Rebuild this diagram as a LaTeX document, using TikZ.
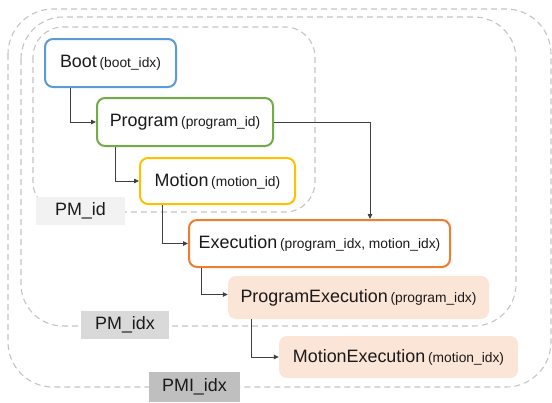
\documentclass[tikz,border=0pt]{standalone}
\usepackage{fontspec}
\setmainfont{Liberation Sans}
\usetikzlibrary{arrows.meta}

\definecolor{bootblue}{HTML}{5B9BD5}
\definecolor{proggreen}{HTML}{70AD47}
\definecolor{motionyellow}{HTML}{FFC000}
\definecolor{execorange}{HTML}{ED7D31}
\definecolor{peach}{HTML}{FBE5D6}
\definecolor{regiongray}{HTML}{C4C4C4}
\definecolor{txt}{HTML}{1A1A1A}
\definecolor{wire}{HTML}{404040}

\newcommand{\mainname}[1]{{\fontsize{17.9}{20}\selectfont #1}}
\newcommand{\keyname}[1]{{\fontsize{13.8}{16}\selectfont #1}}

\tikzset{
  entity/.style={draw, line width=2pt, rounded corners=8pt, fill=white,
    text=txt, inner sep=0pt, align=center},
  derived/.style={fill=peach, rounded corners=8pt, text=txt, inner sep=0pt,
    align=center},
  region/.style={draw=regiongray, line width=1.1pt, dash pattern=on 6pt off 4pt},
  scopetag/.style={text=txt, inner sep=0pt, align=center},
  link/.style={draw=wire, line width=0.8pt, -{Triangle[length=5pt,width=4.5pt]}}
}

\begin{document}
\begin{tikzpicture}[x=1pt, y=-1pt]
\useasboundingbox (0,0) rectangle (552,402);

% nested index scopes
\draw[region, rounded corners=45pt] (8,9) rectangle (551,387);
\draw[region, rounded corners=42pt] (21,17) rectangle (516,326);
\draw[region, rounded corners=30pt] (33,27) rectangle (315,212);

% scope labels
\node[scopetag, fill=black!5, minimum width=89pt, minimum height=28pt]
  (pmid) at (80.5,211) {\mainname{PM\_id}};
\node[scopetag, fill=black!15, minimum width=88pt, minimum height=28pt]
  (pmidx) at (125,325) {\mainname{PM\_idx}};
\node[scopetag, fill=black!25, minimum width=91pt, minimum height=30pt]
  (pmiidx) at (194.5,387) {\mainname{PMI\_idx}};

% entities
\node[entity, draw=bootblue, minimum width=131pt, minimum height=48pt]
  (boot) at (110.5,63) {\mainname{Boot} \keyname{(boot\_idx)}};
\node[entity, draw=proggreen, minimum width=176pt, minimum height=48pt]
  (program) at (185,122) {\mainname{Program} \keyname{(program\_id)}};
\node[entity, draw=motionyellow, minimum width=155pt, minimum height=46pt]
  (motion) at (217.5,181) {\mainname{Motion} \keyname{(motion\_id)}};
\node[entity, draw=execorange, minimum width=261pt, minimum height=47pt]
  (execution) at (319.5,243.5) {\mainname{Execution} \keyname{(program\_idx, motion\_idx)}};
\node[derived, minimum width=261pt, minimum height=43pt]
  (progexec) at (358.5,297.5) {\mainname{ProgramExecution} \keyname{(program\_idx)}};
\node[derived, minimum width=239pt, minimum height=42pt]
  (motexec) at (398.5,357) {\mainname{MotionExecution} \keyname{(motion\_idx)}};

% dependencies
\draw[link] ([xshift=26pt]boot.south west) |- (program.west);
\draw[link] ([xshift=19pt]program.south west) |- (motion.west);
\draw[link] (program.east) -| ([xshift=182pt]execution.north west);
\draw[link] ([xshift=23pt]motion.south west) |- (execution.west);
\draw[link] ([xshift=13pt]execution.south west) |- ([yshift=3pt]progexec.west);
\draw[link] ([xshift=24pt]progexec.south west) |- (motexec.west);
\end{tikzpicture}
\end{document}
